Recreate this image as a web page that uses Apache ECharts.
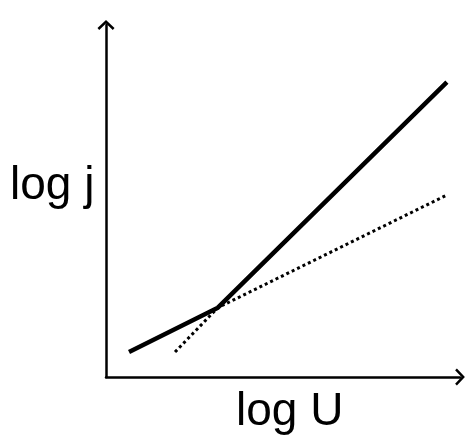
<!DOCTYPE html>
<html><head><meta charset="utf-8">
<script src="https://cdn.jsdelivr.net/npm/echarts@6/dist/echarts.min.js"></script>
<style>html,body{margin:0;padding:0;background:#fff}#c{width:466px;height:438px}</style>
</head><body><div id="c"></div>
<script>
// Values in arbitrary log units (0-100 on each axis)
const solidX = [6.5, 31.6, 96.3];
const solidY = [7.1, 19.7, 83.8];
const dottedX = [19.5, 31.6, 96.3];
const dottedY = [7.1, 19.7, 51.7];
const xName = 'log U';
const yName = 'log j';

const chart = echarts.init(document.getElementById('c'), null, {renderer: 'canvas'});
// open chevron arrow head pointing up
const chev = 'path://M0,8 L8.5,0 L17,8 L15.3,9.8 L8.5,3.4 L1.7,9.8 Z';
const axisLineStyle = {show: true, lineStyle: {color: '#000', width: 2.5}, symbol: ['none', chev], symbolSize: [17, 9.8], symbolOffset: [0, 0]};
chart.setOption({
  animation: false,
  grid: {left: 106, top: 25, right: 6, bottom: 61},
  xAxis: {
    type: 'value', min: 0, max: 100,
    axisLine: axisLineStyle,
    axisTick: {show: false}, axisLabel: {show: false}, splitLine: {show: false}
  },
  yAxis: {
    type: 'value', min: 0, max: 100,
    axisLine: axisLineStyle,
    axisTick: {show: false}, axisLabel: {show: false}, splitLine: {show: false}
  },
  graphic: [
    {type: 'text', left: 10, top: 163, style: {text: yName, font: '46px "Liberation Sans", Arial, sans-serif', fill: '#000'}},
    {type: 'text', left: 236, top: 389, style: {text: xName, font: '46px "Liberation Sans", Arial, sans-serif', fill: '#000'}}
  ],
  series: [
    {type: 'line', data: solidX.map((x, i) => [x, solidY[i]]), symbol: 'none', lineStyle: {color: '#000', width: 4.5}, z: 3},
    {type: 'line', data: dottedX.map((x, i) => [x, dottedY[i]]), symbol: 'none', lineStyle: {color: '#000', width: 3, type: [3, 3]}, z: 2}
  ]
});
</script></body></html>
